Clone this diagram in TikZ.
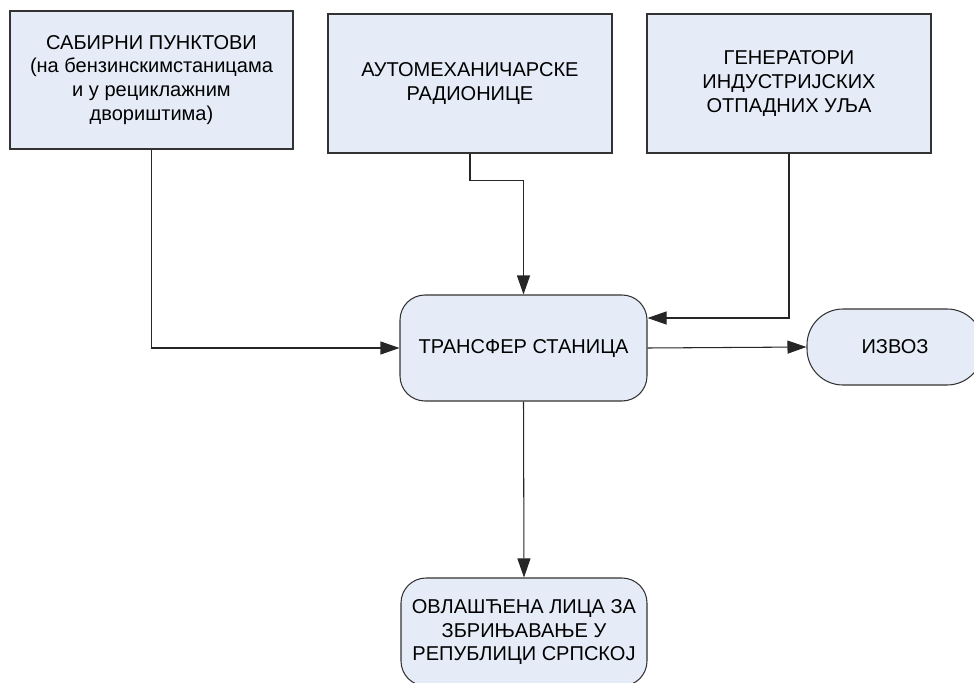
\documentclass[tikz,border=0pt]{standalone}
\usepackage{fontspec}
\setmainfont{Liberation Sans}
\usetikzlibrary{arrows.meta}
\definecolor{boxfill}{RGB}{230,236,247}
\begin{document}
\begin{tikzpicture}[
    box/.style={draw=black!80, fill=boxfill, line width=0.6pt, align=center,
        font=\fontsize{11.4}{13.6}\selectfont, inner sep=0pt},
    roundbox/.style={box, rounded corners=0.5cm},
    arr/.style={draw=black!85, line width=0.6pt, -{Triangle[length=0.38cm, width=0.26cm]}}
]
    % picture frame (974 x 682 px, 1px = 0.02cm)
    \useasboundingbox (0,0) rectangle (19.48,13.64);
    % sources on top
    \node[box, minimum width=5.66cm, minimum height=2.76cm] (sab) at (3.03,12.04)
        {САБИРНИ ПУНКТОВИ\\(на бензинскимстаницама\\и у рециклажним\\двориштима)};
    \node[box, minimum width=5.68cm, minimum height=2.78cm] (aut) at (9.40,11.97)
        {АУТОМЕХАНИЧАРСКЕ\\РАДИОНИЦЕ};
    \node[box, minimum width=5.68cm, minimum height=2.78cm] (gen) at (15.78,11.97)
        {ГЕНЕРАТОРИ\\ИНДУСТРИЈСКИХ\\ОТПАДНИХ УЉА};
    % transfer station and the two outlets
    \node[roundbox, minimum width=4.94cm, minimum height=2.12cm] (tr) at (10.47,6.68)
        {ТРАНСФЕР СТАНИЦА};
    \node[roundbox, rounded corners=0.72cm, minimum width=3.52cm, minimum height=1.52cm] (izv) at (17.90,6.70)
        {ИЗВОЗ};
    \node[roundbox, minimum width=4.92cm, minimum height=2.16cm] (ovl) at (10.48,1.00)
        {ОВЛАШЋЕНА ЛИЦА ЗА\\ЗБРИЊАВАЊЕ У\\РЕПУБЛИЦИ СРПСКОЈ};
    % connectors
    \draw[arr] (sab.south) |- (tr.west);
    \draw[arr] (aut.south) -- ++(0,-0.54) -| (tr.north);
    \draw[arr] (gen.south) |- ([yshift=0.6cm]tr.east);
    \draw[arr] (tr.east) -- (izv.west);
    \draw[arr] (tr.south) -- (ovl.north);
\end{tikzpicture}
\end{document}
